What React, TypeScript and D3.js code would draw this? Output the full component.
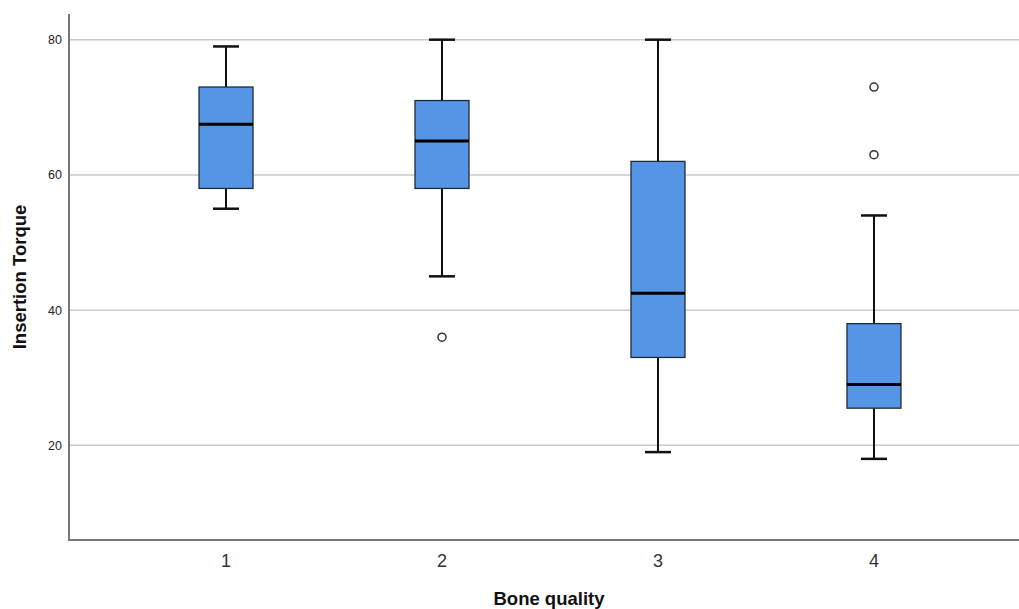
import React, { useEffect, useRef } from 'react';
import * as d3 from 'd3';

// Bone quality groups and the box summaries
const categories = ['1', '2', '3', '4'];
const whiskerLow = [55, 45, 19, 18];
const q1 = [58, 58, 33, 25.5];
const median = [67.5, 65, 42.5, 29];
const q3 = [73, 71, 62, 38];
const whiskerHigh = [79, 80, 80, 54];
const outliers = [[], [36], [], [63, 73]];
const yTicks = [20, 40, 60, 80];

const WIDTH = 1019;
const HEIGHT = 609;

export default function App() {
  const svgRef = useRef<SVGSVGElement | null>(null);

  useEffect(() => {
    const svg = d3.select(svgRef.current);
    svg.selectAll('*').remove();

    const left = 69;
    const bottom = 540;
    const top = 14;

    const x = d3.scalePoint<string>()
      .domain(categories)
      .range([left, 1031])
      .padding(0.727);

    const y = d3.scaleLinear()
      .domain([6, 83.8])
      .range([bottom, top]);

    const boxW = 54;
    const capW = 26;

    // gridlines
    svg.append('g')
      .selectAll('line')
      .data(yTicks)
      .enter()
      .append('line')
      .attr('x1', left)
      .attr('x2', WIDTH)
      .attr('y1', d => y(d))
      .attr('y2', d => y(d))
      .attr('stroke', '#c9c9c9')
      .attr('stroke-width', 1.5);

    // y tick labels
    svg.append('g')
      .selectAll('text')
      .data(yTicks)
      .enter()
      .append('text')
      .attr('x', 62)
      .attr('y', d => y(d))
      .attr('dy', '0.35em')
      .attr('text-anchor', 'end')
      .attr('font-family', 'Liberation Sans, Arial, sans-serif')
      .attr('font-size', 12.5)
      .attr('fill', '#222')
      .text(d => d);

    const boxes = svg.append('g')
      .selectAll('g')
      .data(categories)
      .enter()
      .append('g');

    // whiskers
    boxes.append('line')
      .attr('x1', d => x(d)!)
      .attr('x2', d => x(d)!)
      .attr('y1', (d, i) => y(whiskerLow[i]))
      .attr('y2', (d, i) => y(whiskerHigh[i]))
      .attr('stroke', '#111')
      .attr('stroke-width', 2);

    [whiskerLow, whiskerHigh].forEach(vals => {
      boxes.append('line')
        .attr('x1', d => x(d)! - capW / 2)
        .attr('x2', d => x(d)! + capW / 2)
        .attr('y1', (d, i) => y(vals[i]))
        .attr('y2', (d, i) => y(vals[i]))
        .attr('stroke', '#111')
        .attr('stroke-width', 2.5);
    });

    // boxes
    boxes.append('rect')
      .attr('x', d => x(d)! - boxW / 2)
      .attr('y', (d, i) => y(q3[i]))
      .attr('width', boxW)
      .attr('height', (d, i) => y(q1[i]) - y(q3[i]))
      .attr('fill', '#5595e5')
      .attr('stroke', '#1e2a3a')
      .attr('stroke-width', 1.3);

    // medians
    boxes.append('line')
      .attr('x1', d => x(d)! - boxW / 2)
      .attr('x2', d => x(d)! + boxW / 2)
      .attr('y1', (d, i) => y(median[i]))
      .attr('y2', (d, i) => y(median[i]))
      .attr('stroke', '#000')
      .attr('stroke-width', 3);

    // outliers
    boxes.each(function (d, i) {
      d3.select(this)
        .selectAll('circle')
        .data(outliers[i])
        .enter()
        .append('circle')
        .attr('cx', x(d)!)
        .attr('cy', v => y(v))
        .attr('r', 4)
        .attr('fill', '#fff')
        .attr('stroke', '#333')
        .attr('stroke-width', 1.5);
    });

    // axes
    svg.append('line')
      .attr('x1', left)
      .attr('x2', left)
      .attr('y1', top)
      .attr('y2', bottom)
      .attr('stroke', '#777')
      .attr('stroke-width', 2);

    svg.append('line')
      .attr('x1', left - 1)
      .attr('x2', WIDTH)
      .attr('y1', bottom)
      .attr('y2', bottom)
      .attr('stroke', '#777')
      .attr('stroke-width', 2);

    // category labels
    svg.append('g')
      .selectAll('text')
      .data(categories)
      .enter()
      .append('text')
      .attr('x', d => x(d)!)
      .attr('y', 567)
      .attr('text-anchor', 'middle')
      .attr('font-family', 'Liberation Sans, Arial, sans-serif')
      .attr('font-size', 18)
      .attr('fill', '#333')
      .text(d => d);

    // axis titles
    svg.append('text')
      .attr('x', 549)
      .attr('y', 605)
      .attr('text-anchor', 'middle')
      .attr('font-family', 'Liberation Sans, Arial, sans-serif')
      .attr('font-weight', 'bold')
      .attr('font-size', 18.5)
      .attr('fill', '#111')
      .text('Bone quality');

    svg.append('text')
      .attr('transform', 'translate(26,277) rotate(-90)')
      .attr('text-anchor', 'middle')
      .attr('font-family', 'Liberation Sans, Arial, sans-serif')
      .attr('font-weight', 'bold')
      .attr('font-size', 18.5)
      .attr('fill', '#111')
      .text('Insertion Torque');
  }, []);

  return (
    <svg
      ref={svgRef}
      width={WIDTH}
      height={HEIGHT}
      style={{ position: 'fixed', left: 0, top: 0, background: '#fff' }}
    />
  );
}
